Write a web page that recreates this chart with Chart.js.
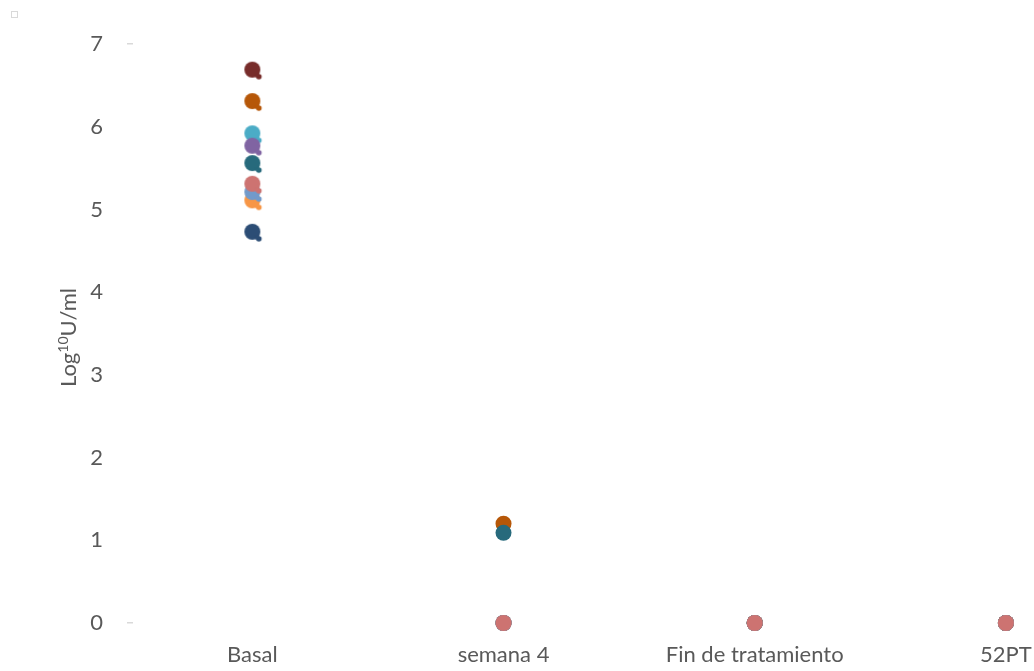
<!DOCTYPE html>
<html>
<head>
<meta charset="utf-8">
<script src="https://cdn.jsdelivr.net/npm/chart.js@4.4.1/dist/chart.umd.min.js"></script>
<style>
  html, body { margin: 0; padding: 0; background: #ffffff; }
  #wrap { width: 1034px; height: 671px; position: relative; }
</style>
</head>
<body>
<div id="wrap"><canvas id="chart" width="1034" height="671"></canvas></div>
<script>
// Time points of the follow-up
const categorias = ['Basal', 'semana 4', 'Fin de tratamiento', '52PT'];
const yTicks = [0, 1, 2, 3, 4, 5, 6, 7];

// Viral load per patient (log10 U/ml) at each time point
const paciente1 = [5.31, 0, 0, 0];
const paciente2 = [5.21, 0, 0, 0];
const paciente3 = [5.11, 0, 0, 0];
const paciente4 = [4.73, 0, 0, 0];
const paciente5 = [5.56, 1.09, 0, 0];
const paciente6 = [6.31, 1.20, 0, 0];
const paciente7 = [5.77, 0, 0, 0];
const paciente8 = [5.92, 0, 0, 0];
const paciente9 = [6.69, 0, 0, 0];

const series = [
  { label: 'Paciente 1', values: paciente1, color: '#CD7371' },
  { label: 'Paciente 2', values: paciente2, color: '#729ACA' },
  { label: 'Paciente 3', values: paciente3, color: '#F79646' },
  { label: 'Paciente 4', values: paciente4, color: '#2C4D75' },
  { label: 'Paciente 5', values: paciente5, color: '#276A7C' },
  { label: 'Paciente 6', values: paciente6, color: '#B65708' },
  { label: 'Paciente 7', values: paciente7, color: '#8064A2' },
  { label: 'Paciente 8', values: paciente8, color: '#4BACC6' },
  { label: 'Paciente 9', values: paciente9, color: '#772C2A' }
];

const FONT = 'Lato, "Open Sans", "Liberation Sans", sans-serif';
const TEXT = '#595959';

// Marker with a small tail, used for the baseline measurement
function tailMarker(color) {
  const c = document.createElement('canvas');
  c.width = 30; c.height = 30;
  const g = c.getContext('2d');
  g.fillStyle = color;
  g.beginPath(); g.arc(15, 15, 8, 0, Math.PI * 2); g.fill();
  g.beginPath(); g.arc(21.5, 22, 2.8, 0, Math.PI * 2); g.fill();
  g.beginPath();
  g.moveTo(17, 20); g.lineTo(21.5, 18.5); g.lineTo(23, 23.5); g.lineTo(18, 22.5);
  g.closePath(); g.fill();
  return c;
}

const datasets = series.map(s => {
  const tail = tailMarker(s.color);
  return {
    label: s.label,
    data: s.values.map((v, i) => ({ x: i, y: v })),
    backgroundColor: s.color,
    borderColor: s.color,
    borderWidth: 0,
    showLine: false,
    clip: false,
    pointRadius: 8,
    pointHoverRadius: 8,
    pointStyle: ctx => (ctx.dataIndex === 0 ? tail : 'circle')
  };
});

// Small key box in the corner and the rotated axis title with superscript
const decor = {
  id: 'decor',
  afterDraw(chart) {
    const ctx = chart.ctx;
    ctx.save();
    ctx.strokeStyle = '#d9d9d9';
    ctx.lineWidth = 1;
    ctx.strokeRect(11.5, 11.5, 6, 6);

    const area = chart.chartArea;
    const cy = (area.top + area.bottom) / 2 - 2 + 6;
    const big = '400 22px ' + FONT;
    const small = '400 14px ' + FONT;
    ctx.font = big;
    const w1 = ctx.measureText('Log').width;
    const w3 = ctx.measureText('U/ml').width;
    ctx.font = small;
    const w2 = ctx.measureText('10').width;
    const total = w1 + w2 + w3;
    ctx.translate(76, cy);
    ctx.rotate(-Math.PI / 2);
    ctx.fillStyle = TEXT;
    ctx.textBaseline = 'alphabetic';
    ctx.textAlign = 'left';
    let x = -total / 2;
    ctx.font = big; ctx.fillText('Log', x, 0); x += w1;
    ctx.font = small; ctx.fillText('10', x, -8); x += w2;
    ctx.font = big; ctx.fillText('U/ml', x, 0);
    ctx.restore();
  }
};

new Chart(document.getElementById('chart'), {
  type: 'scatter',
  data: { datasets },
  plugins: [decor],
  options: {
    responsive: false,
    animation: false,
    events: [],
    layout: { padding: { top: 44, right: 0, bottom: 0, left: 0 } },
    plugins: { legend: { display: false }, tooltip: { enabled: false } },
    scales: {
      x: {
        type: 'linear',
        min: -0.475,
        max: 3.08,
        grid: { display: false },
        border: { display: false },
        afterFit(scale) {
          scale.height = 48;
          scale.paddingLeft = 0;
          scale.paddingRight = 0;
        },
        afterBuildTicks(scale) {
          scale.ticks = categorias.map((c, i) => ({ value: i }));
        },
        ticks: {
          includeBounds: false,
          padding: 11,
          color: TEXT,
          font: { family: FONT, size: 22 },
          callback: v => categorias[v] ?? ''
        }
      },
      y: {
        min: 0,
        max: 7,
        afterFit(scale) { scale.width = 133; },
        afterBuildTicks(scale) {
          scale.ticks = yTicks.map(v => ({ value: v }));
        },
        grid: {
          drawOnChartArea: false,
          drawTicks: true,
          tickLength: 6,
          lineWidth: 1.5,
          color: ctx => (ctx.tick && (ctx.tick.value === 0 || ctx.tick.value === 7)) ? '#d9d9d9' : 'rgba(0,0,0,0)'
        },
        border: { display: false },
        ticks: {
          padding: 24,
          color: TEXT,
          font: { family: FONT, size: 22 }
        }
      }
    }
  }
});
</script>
</body>
</html>
